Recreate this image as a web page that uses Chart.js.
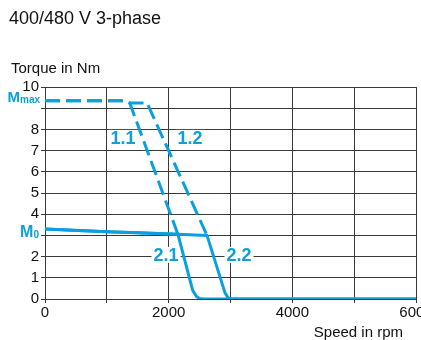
<!DOCTYPE html>
<html><head><meta charset="utf-8">
<script src="https://cdn.jsdelivr.net/npm/chart.js@4/dist/chart.umd.min.js"></script>
<style>html,body{margin:0;padding:0;background:#fff}#wrap{width:421px;height:340px;position:relative}</style>
</head><body><div id="wrap"><canvas id="c" width="421" height="340"></canvas></div>
<script>
// ---- data (speed in rpm, torque in Nm) ----
const speed11 = [0, 1290, 1370, 2150];
const torque11 = [9.35, 9.35, 9.25, 3.05];
const speed12 = [0, 1290, 1370, 1650, 2620];
const torque12 = [9.35, 9.35, 9.25, 9.25, 3.0];
const speed21 = [0, 1000, 1500, 2150, 2390, 2450, 2500, 2560, 6000];
const torque21 = [3.3, 3.17, 3.12, 3.05, 0.4, 0.12, 0.02, 0, 0];
const speed22 = [0, 1000, 1500, 2150, 2620, 2910, 2960, 3010, 6000];
const torque22 = [3.3, 3.17, 3.12, 3.05, 3.0, 0.3, 0.06, 0, 0];
const xTickLabels = [0, 2000, 4000, 6000];
const yTickLabels = [0, 1, 2, 4, 5, 6, 7, 8, 10];
const curveNames = ['1.1', '1.2', '2.1', '2.2'];
const mMax = 9.35, m0 = 3.3;

const zip = (xs, ys) => xs.map((x, i) => ({x, y: ys[i]}));
const BLUE = '#0a9fdf';
const FONT = "'Liberation Sans', Arial, sans-serif";

// label anchors in data units
const curveLabelAt = [[1262, 7.6], [2345, 7.6], [1957, 2.08], [3138, 2.08]];

const textPlugin = {
  id: 'texts',
  beforeDatasetsDraw(chart) {
    const ctx = chart.ctx, xs = chart.scales.x, ys = chart.scales.y;
    ctx.save();
    ctx.font = 'bold 18px ' + FONT;
    ctx.textAlign = 'center';
    ctx.textBaseline = 'middle';
    curveNames.forEach((n, i) => {
      const px = xs.getPixelForValue(curveLabelAt[i][0]);
      const py = ys.getPixelForValue(curveLabelAt[i][1]);
      const w = ctx.measureText(n).width;
      ctx.fillStyle = '#fff';
      ctx.fillRect(px - w / 2 - 2, py - 8, w + 4, 16);
      ctx.fillStyle = BLUE;
      ctx.fillText(n, px, py + 1);
    });
    ctx.restore();
  },
  afterDraw(chart) {
    const ctx = chart.ctx, ys = chart.scales.y;
    ctx.save();
    ctx.fillStyle = '#111';
    ctx.textBaseline = 'alphabetic';
    ctx.textAlign = 'left';
    ctx.font = '18px ' + FONT;
    ctx.fillText('400/480 V 3-phase', 9, 24);
    ctx.font = '15px ' + FONT;
    ctx.fillText('Torque in Nm', 11, 73);
    ctx.textAlign = 'right';
    ctx.fillText('Speed in rpm', 403, 337);
    // Mmax
    ctx.fillStyle = BLUE;
    let by = ys.getPixelForValue(mMax) + 1.5;
    ctx.font = 'bold 10px ' + FONT;
    ctx.fillText('max', 40, by + 1);
    let w = ctx.measureText('max').width;
    ctx.font = 'bold 15px ' + FONT;
    ctx.fillText('M', 40 - w, by);
    // M0
    by = ys.getPixelForValue(m0) + 8;
    ctx.font = 'bold 10px ' + FONT;
    ctx.fillText('0', 39, by + 1);
    w = ctx.measureText('0').width;
    ctx.font = 'bold 16px ' + FONT;
    ctx.fillText('M', 39 - w, by);
    ctx.restore();
  }
};

const dashed = {borderColor: BLUE, borderWidth: 3, borderDash: [15, 6], pointRadius: 0, tension: 0, fill: false, borderCapStyle: 'butt'};
const solid = {borderColor: BLUE, borderWidth: 3, pointRadius: 0, tension: 0, fill: false, borderJoinStyle: 'round'};

const GRID = '#3a3a3a';
new Chart(document.getElementById('c'), {
  type: 'line',
  data: {
    datasets: [
      Object.assign({label: curveNames[0], data: zip(speed11, torque11)}, dashed),
      Object.assign({label: curveNames[1], data: zip(speed12, torque12)}, dashed),
      Object.assign({label: curveNames[2], data: zip(speed21, torque21)}, solid),
      Object.assign({label: curveNames[3], data: zip(speed22, torque22)}, solid)
    ]
  },
  options: {
    responsive: false,
    animation: false,
    devicePixelRatio: 1,
    layout: {padding: {top: 87, right: 5, left: 0, bottom: 0}},
    plugins: {legend: {display: false}, tooltip: {enabled: false}, title: {display: false}},
    scales: {
      x: {
        type: 'linear', min: 0, max: 6000,
        afterBuildTicks: s => { s.ticks = [0,1000,2000,3000,4000,5000,6000].map(v => ({value: v})); },
        afterFit: s => { s.height = 41; s.paddingLeft = 0; s.paddingRight = 0; s.paddingTop = 0; s.paddingBottom = 0; },
        ticks: {
          autoSkip: false, maxRotation: 0, padding: 1, color: '#111',
          font: {family: FONT, size: 15},
          callback: v => xTickLabels.includes(v) ? String(v) : ''
        },
        grid: {color: GRID, lineWidth: 1, tickLength: 4, drawTicks: true},
        border: {color: GRID, width: 1}
      },
      y: {
        type: 'linear', min: 0, max: 10,
        afterBuildTicks: s => { s.ticks = [0,1,2,3,4,5,6,7,8,9,10].map(v => ({value: v})); },
        afterFit: s => { s.width = 45; s.paddingLeft = 0; s.paddingRight = 0; s.paddingTop = 0; s.paddingBottom = 0; },
        ticks: {
          autoSkip: false, padding: 2, color: '#111',
          font: {family: FONT, size: 15},
          callback: v => yTickLabels.includes(v) ? String(v) : ''
        },
        grid: {color: GRID, lineWidth: 1, tickLength: 4, drawTicks: true},
        border: {color: GRID, width: 1}
      }
    }
  },
  plugins: [textPlugin]
});
</script>
</body></html>
